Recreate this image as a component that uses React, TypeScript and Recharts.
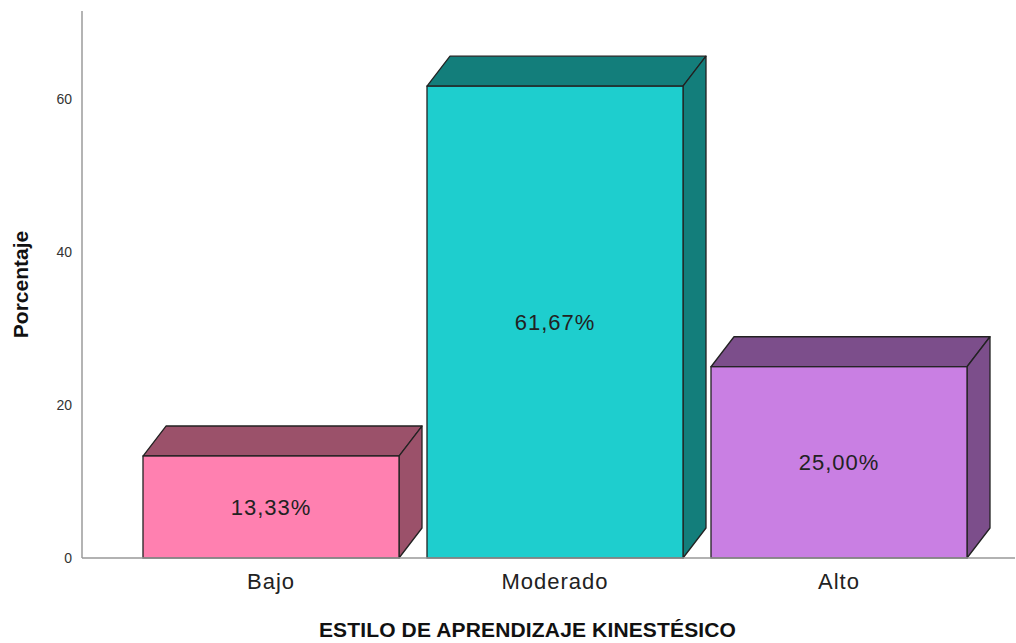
import { BarChart, Bar, XAxis, YAxis, Cell, LabelList, Label } from "recharts";

const categories = ["Bajo", "Moderado", "Alto"];
const percentages = [13.33, 61.67, 25.0];
const frontColors = ["#FF80B0", "#1ECECE", "#C97FE3"];
const sideColors = ["#9B516A", "#137E7B", "#7C4E8B"];
const yTicks = [0, 20, 40, 60];

const data = categories.map((name, i) => ({
  name,
  value: percentages[i],
  front: frontColors[i],
  side: sideColors[i],
}));

const DEPTH_X = 23;
const DEPTH_Y = 30;

const Bar3D = (props: any) => {
  const { x, y, width, height, payload } = props;
  if (height <= 0) return null;
  const side = payload.side;
  const stroke = "#222";
  const top = `${x},${y} ${x + DEPTH_X},${y - DEPTH_Y} ${x + width + DEPTH_X},${y - DEPTH_Y} ${x + width},${y}`;
  const right = `${x + width},${y} ${x + width + DEPTH_X},${y - DEPTH_Y} ${x + width + DEPTH_X},${y + height - DEPTH_Y} ${x + width},${y + height}`;
  return (
    <g>
      <polygon points={top} fill={side} stroke={stroke} strokeWidth={1.3} strokeLinejoin="round" />
      <polygon points={right} fill={side} stroke={stroke} strokeWidth={1.3} strokeLinejoin="round" />
      <rect x={x} y={y} width={width} height={height} fill={payload.front} stroke={stroke} strokeWidth={1.3} />
    </g>
  );
};

const CategoryTick = ({ x, y, payload }: any) => (
  <text x={x} y={y} dy={31} textAnchor="middle" fill="#222" fontSize={22} letterSpacing={1}>
    {payload.value}
  </text>
);

const fmt = (v: any) => `${Number(v).toFixed(2).replace(".", ",")}%`;

export default function App() {
  return (
    <div style={{ position: "absolute", left: 0, top: 0, fontFamily: "'Liberation Sans', Arial, sans-serif" }}>
      <BarChart
        width={1016}
        height={643}
        data={data}
        margin={{ top: 11, right: 1, bottom: 0, left: 0 }}
        barSize={256}
      >
        <YAxis
          width={82}
          domain={[0, 71.5]}
          ticks={yTicks}
          tickLine={false}
          tickSize={0}
          tickMargin={10}
          axisLine={{ stroke: "#b4b4b4", strokeWidth: 2 }}
          tick={{ fill: "#333", fontSize: 14 }}
        >
          <Label
            value="Porcentaje"
            angle={-90}
            position="insideLeft"
            offset={21}
            style={{ fontSize: 21, fontWeight: "bold", fill: "#111", textAnchor: "middle" }}
          />
        </YAxis>
        <XAxis
          dataKey="name"
          height={85}
          tickLine={false}
          tickSize={0}
          tickMargin={0}
          axisLine={{ stroke: "#999", strokeWidth: 1.5 }}
          padding={{ left: 47, right: 34 }}
          tick={<CategoryTick />}
          interval={0}
        >
          <Label
            value="ESTILO DE APRENDIZAJE KINESTÉSICO"
            position="insideBottom"
            offset={6}
            dx={-21}
            style={{ fontSize: 21, fontWeight: "bold", fill: "#111", letterSpacing: 0.15 }}
          />
        </XAxis>
        <Bar dataKey="value" shape={<Bar3D />} isAnimationActive={false}>
          {data.map((d) => (
            <Cell key={d.name} fill={d.front} />
          ))}
          <LabelList
            dataKey="value"
            position="center"
            formatter={fmt}
            style={{ fontSize: 22, fill: "#222", letterSpacing: 1 }}
          />
        </Bar>
      </BarChart>
    </div>
  );
}
